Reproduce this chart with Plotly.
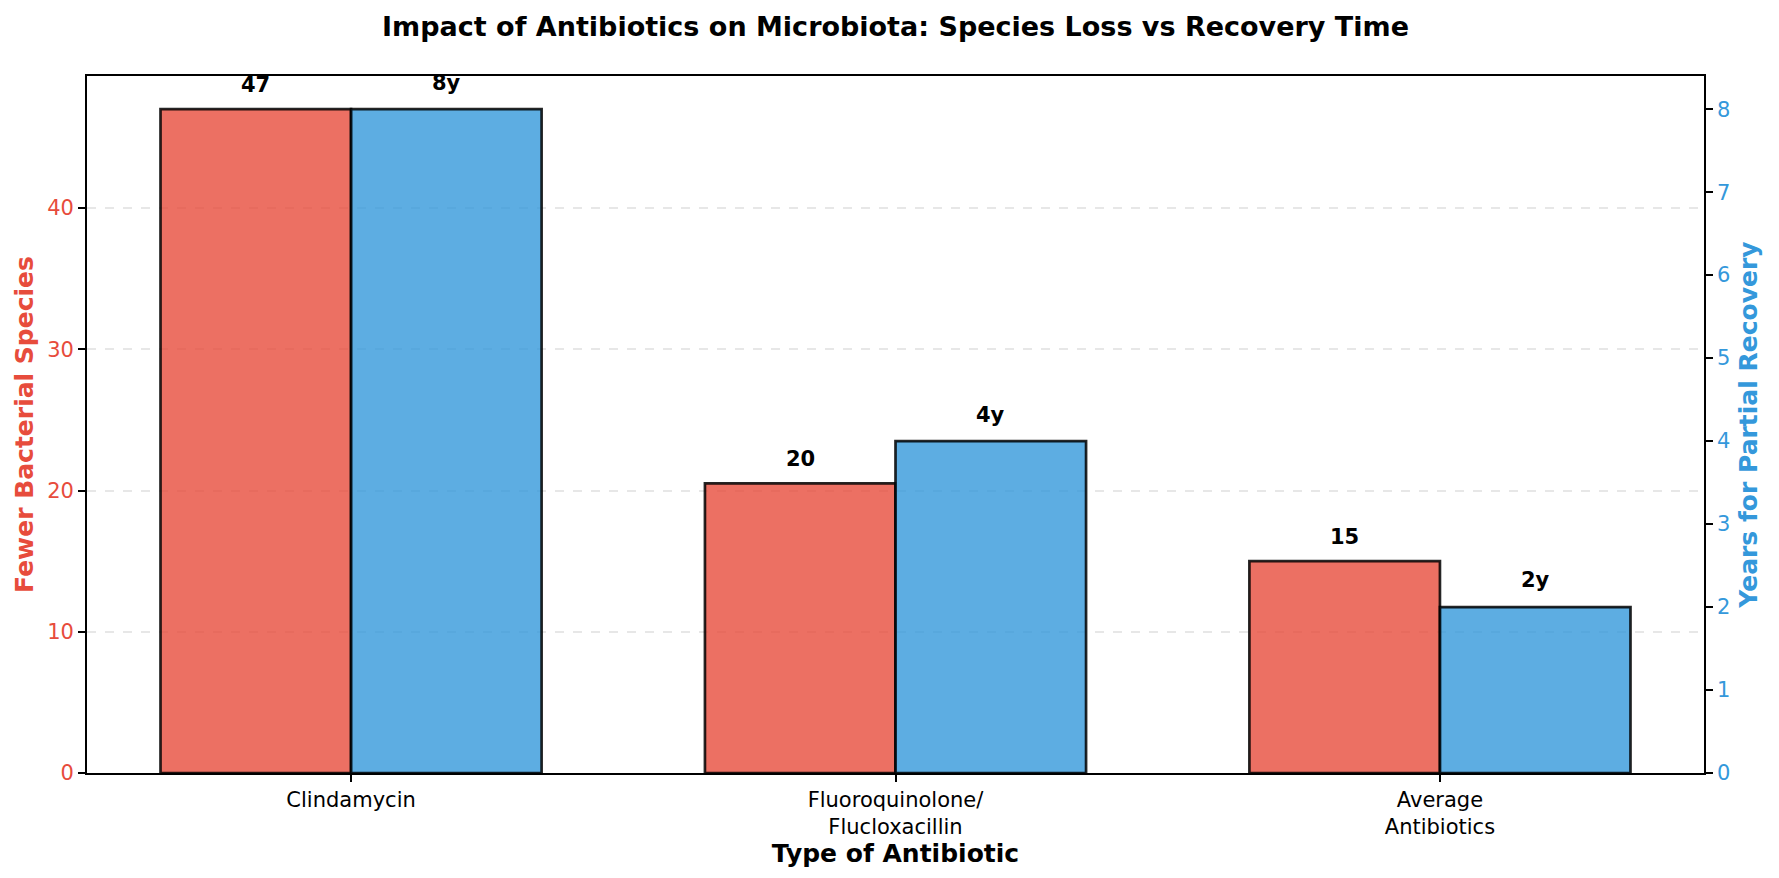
import plotly.graph_objects as go

categories = ["Clindamycin", "Fluoroquinolone/<br>Flucloxacillin", "Average<br>Antibiotics"]
species_loss = [47, 20.5, 15]
species_labels = ["47", "20", "15"]
recovery_years = [8, 4, 2]
recovery_labels = ["8y", "4y", "2y"]
left_ticks = [0, 10, 20, 30, 40]
right_ticks = [0, 1, 2, 3, 4, 5, 6, 7, 8]

RED = "#E74C3C"
BLUE = "#3498DB"
FONT = "DejaVu Sans"
W = 0.35
idx = list(range(len(categories)))
span = (len(categories) - 1) + 2 * W
xrange = [-W - 0.05 * span, (len(categories) - 1) + W + 0.05 * span]

fig = go.Figure()
fig.add_trace(go.Bar(
    x=idx, y=species_loss, offset=-W, width=W, yaxis="y",
    marker=dict(color="rgba(231,76,60,0.8)", line=dict(color="rgba(0,0,0,0.85)", width=2.7)),
    showlegend=False, name="Fewer Bacterial Species",
))
fig.add_trace(go.Bar(
    x=idx, y=recovery_years, offset=0, width=W, yaxis="y2",
    marker=dict(color="rgba(52,152,219,0.8)", line=dict(color="rgba(0,0,0,0.85)", width=2.7)),
    showlegend=False, name="Years for Partial Recovery",
))

annotations = []
for i in idx:
    annotations.append(dict(x=i - W / 2, y=species_loss[i] + 1, xref="x", yref="y",
                            text="<b>%s</b>" % species_labels[i], showarrow=False,
                            yanchor="bottom", yshift=-4,
                            font=dict(family=FONT, size=21, color="black")))
    annotations.append(dict(x=i + W / 2, y=recovery_years[i] + 0.2, xref="x", yref="y2",
                            text="<b>%s</b>" % recovery_labels[i], showarrow=False,
                            yanchor="bottom", yshift=-4,
                            font=dict(family=FONT, size=21, color="black")))

fig.update_layout(
    width=1779, height=878,
    margin=dict(l=87, r=75, t=76, b=105),
    paper_bgcolor="white", plot_bgcolor="white",
    barmode="overlay",
    font=dict(family=FONT, size=21, color="black"),
    title=dict(text="<b>Impact of Antibiotics on Microbiota: Species Loss vs Recovery Time</b>",
               x=0.5, xref="paper", xanchor="center", y=1 - 27 / 878, yanchor="middle",
               font=dict(family=FONT, size=27, color="black")),
    xaxis=dict(range=xrange, tickvals=idx, ticktext=categories, showgrid=False, zeroline=False,
               showline=True, linecolor="black", linewidth=1.7, mirror=True,
               ticks="outside", ticklen=7, tickwidth=1.7, tickcolor="black",
               tickfont=dict(family=FONT, size=21, color="black"),
               title=dict(text="<b>Type of Antibiotic</b>", standoff=5,
                          font=dict(family=FONT, size=25, color="black"))),
    yaxis=dict(range=[0, max(species_loss) * 1.05], tickvals=left_ticks, showgrid=True,
               gridcolor="rgba(176,176,176,0.3)", gridwidth=1.7, griddash="dash",
               zeroline=False, showline=True, linecolor="black", linewidth=1.7,
               ticks="outside", ticklen=7, tickwidth=1.7, tickcolor="black",
               tickfont=dict(family=FONT, size=21, color=RED),
               title=dict(text="<b>Fewer Bacterial Species</b>", standoff=6,
                          font=dict(family=FONT, size=25, color=RED))),
    yaxis2=dict(range=[0, max(recovery_years) * 1.05], tickvals=right_ticks, overlaying="y",
                side="right", showgrid=False, zeroline=False, showline=True, linecolor="black",
                linewidth=1.7, ticks="outside", ticklen=7, tickwidth=1.7, tickcolor="black",
                tickfont=dict(family=FONT, size=21, color=BLUE),
                title=dict(text="<b>Years for Partial Recovery</b>", standoff=10,
                           font=dict(family=FONT, size=25, color=BLUE))),
    annotations=annotations,
)

fig.write_html("out.html")
